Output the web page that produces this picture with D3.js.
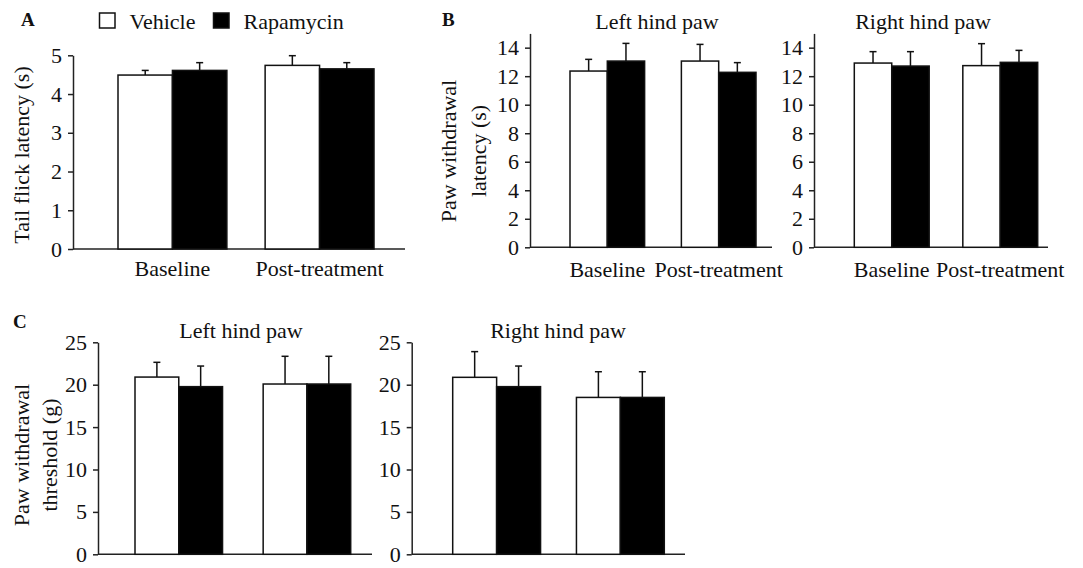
<!DOCTYPE html>
<html>
<head>
<meta charset="utf-8">
<script src="https://cdn.jsdelivr.net/npm/d3@7"></script>
<style>
  body { margin: 0; background: #fff; }
  svg text { font-family: "Liberation Serif", "Times New Roman", serif; fill: #111; }
</style>
</head>
<body>
<div id="field"></div>
<script>
'use strict';

// data
const groups = ['Baseline', 'Post-treatment'];
const seriesNames = ['Vehicle', 'Rapamycin'];

const tailVeh = [4.49, 4.74], tailVehErr = [0.12, 0.25];
const tailRap = [4.61, 4.65], tailRapErr = [0.20, 0.16];

const pwlLeftVeh = [12.36, 13.06], pwlLeftVehErr = [0.82, 1.17];
const pwlLeftRap = [13.06, 12.27], pwlLeftRapErr = [1.24, 0.68];
const pwlRightVeh = [12.92, 12.74], pwlRightVehErr = [0.80, 1.54];
const pwlRightRap = [12.71, 12.97], pwlRightRapErr = [1.01, 0.84];

const pwtLeftVeh = [20.9, 20.08], pwtLeftVehErr = [1.74, 3.27];
const pwtLeftRap = [19.77, 20.08], pwtLeftRapErr = [2.43, 3.27];
const pwtRightVeh = [20.87, 18.5], pwtRightVehErr = [3.03, 3.03];
const pwtRightRap = [19.77, 18.5], pwtRightRapErr = [2.43, 3.03];

const ticksA = [0, 1, 2, 3, 4, 5];
const ticksB = [0, 2, 4, 6, 8, 10, 12, 14];
const ticksC = [0, 5, 10, 15, 20, 25];

const w = 1083, h = 568, fs = 22;
const svg = d3.select('#field').append('svg').attr('width', w).attr('height', h);

function panel(o) {
  let g = svg.append('g');
  let y = d3.scaleLinear().domain([0, o.max]).range([o.y0, o.yTop]);
  let x = d3.scaleBand().domain(groups).range([o.barL, o.barR]).paddingInner(o.pad);
  let xs = d3.scaleBand().domain(seriesNames).range([0, x.bandwidth()]);

  // y axis
  let ya = g.append('g').attr('transform', 'translate(' + o.ax + ',0)')
    .call(d3.axisLeft(y).tickValues(o.ticks).tickSize(5).tickSizeOuter(0).tickPadding(6).tickFormat(d3.format('d')));
  ya.selectAll('path, line').attr('stroke', '#222').attr('stroke-width', 1.5);
  ya.selectAll('text').attr('font-size', fs).attr('font-family', null).attr('fill', '#111');

  // x axis line
  g.append('line').attr('x1', o.ax).attr('x2', o.axEnd).attr('y1', o.y0).attr('y2', o.y0)
    .attr('stroke', '#222').attr('stroke-width', 1.5);

  if (o.xlabels) {
    let xa = g.append('g').attr('transform', 'translate(0,' + o.y0 + ')')
      .call(d3.axisBottom(x).tickSize(0).tickPadding(o.labBase - 0.71 * fs));
    xa.select('.domain').remove();
    xa.selectAll('text').attr('font-size', fs).attr('font-family', null).attr('fill', '#111');
  }

  let rows = [];
  groups.forEach(function(gr, i) {
    rows.push({ g: gr, s: 'Vehicle', v: o.veh[i], e: o.vehErr[i] });
    rows.push({ g: gr, s: 'Rapamycin', v: o.rap[i], e: o.rapErr[i] });
  });

  // error bars (up only)
  let eb = g.selectAll('.err').data(rows).enter().append('g');
  eb.append('line')
    .attr('x1', function(d){ return x(d.g) + xs(d.s) + xs.bandwidth() / 2; })
    .attr('x2', function(d){ return x(d.g) + xs(d.s) + xs.bandwidth() / 2; })
    .attr('y1', function(d){ return y(d.v); })
    .attr('y2', function(d){ return y(d.v + d.e); })
    .attr('stroke', '#111').attr('stroke-width', 1.5);
  eb.append('line')
    .attr('x1', function(d){ return x(d.g) + xs(d.s) + xs.bandwidth() / 2 - 3.5; })
    .attr('x2', function(d){ return x(d.g) + xs(d.s) + xs.bandwidth() / 2 + 3.5; })
    .attr('y1', function(d){ return y(d.v + d.e); })
    .attr('y2', function(d){ return y(d.v + d.e); })
    .attr('stroke', '#111').attr('stroke-width', 1.5);

  g.selectAll('.bar').data(rows).enter().append('rect')
    .attr('x', function(d){ return x(d.g) + xs(d.s); })
    .attr('y', function(d){ return y(d.v); })
    .attr('width', xs.bandwidth())
    .attr('height', function(d){ return y(0) - y(d.v); })
    .attr('fill', function(d){ return d.s === 'Vehicle' ? '#fff' : '#000'; })
    .attr('stroke', '#111').attr('stroke-width', 1.5);

  if (o.title) {
    g.append('text').attr('x', o.titleX).attr('y', o.titleY).attr('text-anchor', 'middle')
      .attr('font-size', fs).text(o.title);
  }
  if (o.ylab) {
    o.ylab.forEach(function(l) {
      g.append('text').attr('transform', 'translate(' + l.x + ',' + l.y + ') rotate(-90)')
        .attr('text-anchor', 'middle').attr('font-size', fs).text(l.t);
    });
  }
}

panel({ ax: 73, axEnd: 405, y0: 249, yTop: 55.3, max: 5, ticks: ticksA, barL: 118, barR: 374, pad: 0.26,
  veh: tailVeh, vehErr: tailVehErr, rap: tailRap, rapErr: tailRapErr, xlabels: true, labBase: 27,
  ylab: [{ x: 29, y: 155, t: 'Tail flick latency (s)' }] });

panel({ ax: 530, axEnd: 772, y0: 247.3, yTop: 33.4, max: 15, ticks: ticksB, barL: 570, barR: 756, pad: 0.33,
  veh: pwlLeftVeh, vehErr: pwlLeftVehErr, rap: pwlLeftRap, rapErr: pwlLeftRapErr, xlabels: true, labBase: 29.5,
  title: 'Left hind paw', titleX: 657, titleY: 29,
  ylab: [{ x: 456, y: 151, t: 'Paw withdrawal' }, { x: 486, y: 151, t: 'latency (s)' }] });

panel({ ax: 814, axEnd: 1048, y0: 247.3, yTop: 33.4, max: 15, ticks: ticksB, barL: 854.3, barR: 1037.7, pad: 0.31,
  veh: pwlRightVeh, vehErr: pwlRightVehErr, rap: pwlRightRap, rapErr: pwlRightRapErr, xlabels: true, labBase: 29.5,
  title: 'Right hind paw', titleX: 923, titleY: 29 });

panel({ ax: 98, axEnd: 372, y0: 554.3, yTop: 342.3, max: 25, ticks: ticksC, barL: 135, barR: 350.7, pad: 0.317,
  veh: pwtLeftVeh, vehErr: pwtLeftVehErr, rap: pwtLeftRap, rapErr: pwtLeftRapErr,
  title: 'Left hind paw', titleX: 241, titleY: 338,
  ylab: [{ x: 29, y: 455, t: 'Paw withdrawal' }, { x: 57, y: 455, t: 'threshold (g)' }] });

panel({ ax: 411.7, axEnd: 685, y0: 554.3, yTop: 342.3, max: 25, ticks: ticksC, barL: 452.7, barR: 664.3, pad: 0.29,
  veh: pwtRightVeh, vehErr: pwtRightVehErr, rap: pwtRightRap, rapErr: pwtRightRapErr,
  title: 'Right hind paw', titleX: 558, titleY: 338 });

// panel letters
[['A', 21, 26], ['B', 442, 26], ['C', 13, 328]].forEach(function(p) {
  svg.append('text').attr('x', p[1]).attr('y', p[2]).attr('font-size', 19).attr('font-weight', 'bold').text(p[0]);
});

// legend
let lg = svg.append('g');
let legX = d3.scaleOrdinal().domain(seriesNames).range([99.5, 213.5]);
lg.selectAll('rect').data(seriesNames).enter().append('rect')
  .attr('x', function(d){ return legX(d); }).attr('y', 13)
  .attr('width', 15.5).attr('height', 15)
  .attr('fill', function(d){ return d === 'Vehicle' ? '#fff' : '#000'; })
  .attr('stroke', '#111').attr('stroke-width', 1.5);
lg.selectAll('text').data(seriesNames).enter().append('text')
  .attr('x', function(d){ return legX(d) + 30; }).attr('y', 28.5)
  .attr('font-size', fs).text(function(d){ return d; });
</script>
</body>
</html>
